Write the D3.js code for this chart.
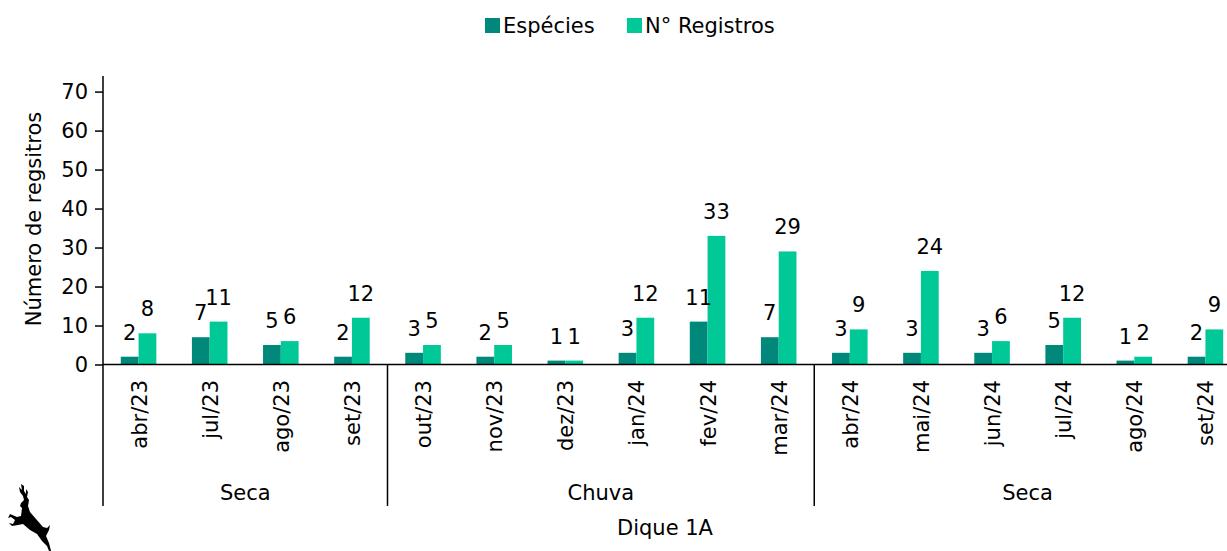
<!DOCTYPE html>
<html>
<head>
<meta charset="utf-8">
<script src="https://cdn.jsdelivr.net/npm/d3@7"></script>
<style>
    body { margin: 0; background: #fff; }
    svg { display: block; font-family: "DejaVu Sans", Verdana, sans-serif; }
</style>
</head>
<body>
<svg id="canvas" width="1227" height="551"></svg>
<script>
    "use strict";

    var categories = ["abr/23", "jul/23", "ago/23", "set/23", "out/23", "nov/23", "dez/23", "jan/24",
        "fev/24", "mar/24", "abr/24", "mai/24", "jun/24", "jul/24", "ago/24", "set/24"];
    var especies = [2, 7, 5, 2, 3, 2, 1, 3, 11, 7, 3, 3, 3, 5, 1, 2];
    var registros = [8, 11, 6, 12, 5, 5, 1, 12, 33, 29, 9, 24, 6, 12, 2, 9];
    var seasons = [
        { name: "Seca", from: 0, to: 4 },
        { name: "Chuva", from: 4, to: 10 },
        { name: "Seca", from: 10, to: 16 }
    ];
    var seriesNames = ["Espécies", "N° Registros"];
    var seriesColors = ["#00897b", "#00c896"];
    var yTicks = [0, 10, 20, 30, 40, 50, 60, 70];

    var LEFT = 103, RIGHT = 1241, ZERO_Y = 364.5, TOP_Y = 76;
    var FONT = "21px";

    var svg = d3.select(document.getElementById("canvas"));

    var x = d3.scaleBand()
        .domain(categories)
        .range([LEFT, RIGHT])
        .paddingInner(0.5)
        .paddingOuter(0.25);
    var xSeries = d3.scaleBand()
        .domain(seriesNames)
        .range([0, x.bandwidth()]);
    var y = d3.scaleLinear()
        .domain([0, 74])
        .range([ZERO_Y, TOP_Y]);

    var rows = categories.map(function(c, i) {
        return { cat: c, values: [especies[i], registros[i]] };
    });

    function toPairs(d) {
        return d.values.map(function(v, k) { return { key: seriesNames[k], k: k, v: v }; });
    }

    // Bars
    var groups = svg.append("g").selectAll("g")
        .data(rows)
        .enter().append("g")
        .attr("transform", function(d) { return "translate(" + x(d.cat) + ",0)"; });
    groups.selectAll("rect")
        .data(toPairs)
        .enter().append("rect")
        .attr("x", function(d) { return xSeries(d.key); })
        .attr("width", xSeries.bandwidth())
        .attr("y", function(d) { return y(d.v); })
        .attr("height", function(d) { return ZERO_Y - y(d.v); })
        .attr("fill", function(d) { return seriesColors[d.k]; });
    groups.selectAll("text")
        .data(toPairs)
        .enter().append("text")
        .attr("x", function(d) { return xSeries(d.key) + xSeries.bandwidth() / 2; })
        .attr("y", function(d) { return y(d.v) - 17; })
        .attr("text-anchor", "middle")
        .attr("font-size", FONT)
        .attr("fill", "#000")
        .text(function(d) { return d.v; });

    // Y axis
    var yAxis = svg.append("g")
        .attr("transform", "translate(" + LEFT + ",0)")
        .call(d3.axisLeft(y).tickValues(yTicks).tickSize(8).tickPadding(7));
    yAxis.select(".domain").remove();
    yAxis.selectAll("line").attr("stroke", "#000").attr("stroke-width", 1.5);
    yAxis.selectAll("text").attr("font-size", FONT).attr("fill", "#000")
        .attr("font-family", "DejaVu Sans, sans-serif");
    svg.append("line")
        .attr("x1", LEFT).attr("x2", LEFT)
        .attr("y1", TOP_Y).attr("y2", ZERO_Y)
        .attr("stroke", "#000").attr("stroke-width", 1.5);

    // Baseline
    svg.append("line")
        .attr("x1", LEFT).attr("x2", RIGHT)
        .attr("y1", ZERO_Y).attr("y2", ZERO_Y)
        .attr("stroke", "#000").attr("stroke-width", 1.5);

    // Category labels
    svg.append("g").selectAll("text")
        .data(categories)
        .enter().append("text")
        .attr("transform", function(d) {
            return "translate(" + (x(d) + x.bandwidth() / 2 + 8) + ",380) rotate(-90)";
        })
        .attr("text-anchor", "end")
        .attr("font-size", FONT)
        .text(function(d) { return d; });

    // Season separators and labels
    var step = x.step();
    var bounds = [0, 4, 10, 16];
    svg.append("g").selectAll("line")
        .data(bounds)
        .enter().append("line")
        .attr("x1", function(b) { return LEFT + b * step; })
        .attr("x2", function(b) { return LEFT + b * step; })
        .attr("y1", ZERO_Y)
        .attr("y2", 506)
        .attr("stroke", "#000").attr("stroke-width", 1.5);
    svg.append("g").selectAll("text")
        .data(seasons)
        .enter().append("text")
        .attr("x", function(s) { return LEFT + (s.from + s.to) / 2 * step; })
        .attr("y", 500)
        .attr("text-anchor", "middle")
        .attr("font-size", FONT)
        .text(function(s) { return s.name; });

    svg.append("text")
        .attr("x", 665).attr("y", 535)
        .attr("text-anchor", "middle")
        .attr("font-size", FONT)
        .text("Dique 1A");

    svg.append("text")
        .attr("transform", "translate(41,219) rotate(-90)")
        .attr("text-anchor", "middle")
        .attr("font-size", FONT)
        .text("Número de regsitros");

    // Legend
    var legendX = [485, 627];
    var legend = svg.append("g").selectAll("g")
        .data(seriesNames)
        .enter().append("g")
        .attr("transform", function(d, i) { return "translate(" + legendX[i] + ",18)"; });
    legend.append("rect")
        .attr("width", 15).attr("height", 15)
        .attr("fill", function(d, i) { return seriesColors[i]; });
    legend.append("text")
        .attr("x", 18).attr("y", 15)
        .attr("font-size", FONT)
        .text(function(d) { return d; });

    // Deer logo (decorative)
    svg.append("path")
        .attr("d", "M21,484 L22,490 L19,487 L20,492 L23,496 L24,500 L21,503 L20,506 L22,508 " +
            "L21,516 L17,517 L10,514 L8,518 L11,517 L15,520 L13,524 L9,523 L12,526 L18,525 " +
            "L23,524 L30,530 L37,534 L42,541 L47,546 L49,551 L51,551 L49,543 L46,536 L49,530 " +
            "L50,525 L47,528 L43,527 L36,519 L30,512 L28,506 L29,500 L27,497 L28,492 L26,489 L26,494 L24,491 L24,486 Z")
        .attr("fill", "#000");
</script>
</body>
</html>
